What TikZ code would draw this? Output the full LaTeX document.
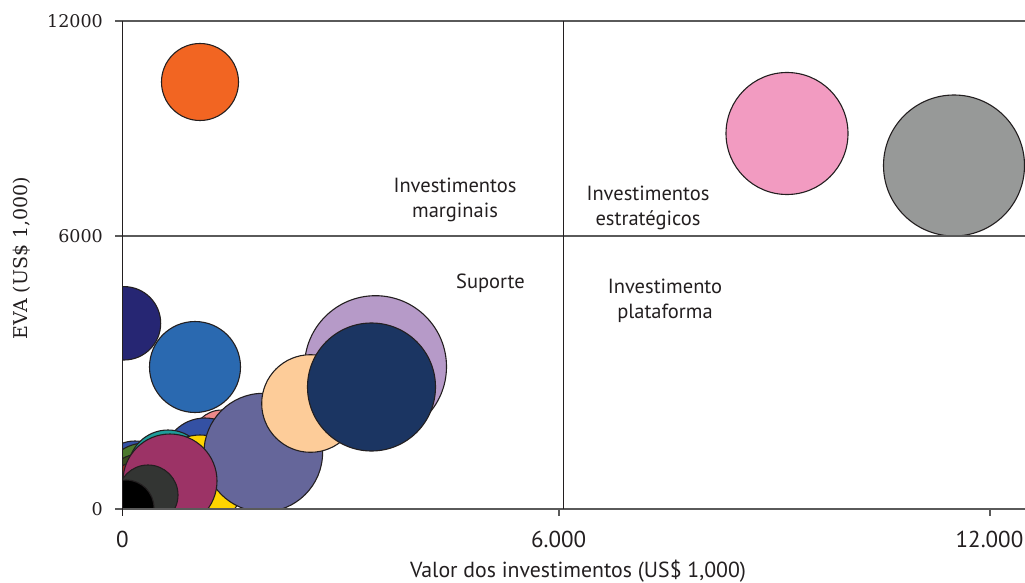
\documentclass[tikz,border=0pt]{standalone}
\usepackage{fontspec}
\setmainfont{PT Sans}
\newfontfamily\serifnum{DejaVu Serif}
\definecolor{outl}{HTML}{231F20}
\definecolor{gridgray}{HTML}{5A5A5A}
\definecolor{cOrange}{HTML}{F26522}
\definecolor{cPink}{HTML}{F29BC1}
\definecolor{cGray}{HTML}{979998}
\definecolor{cIndigo}{HTML}{262673}
\definecolor{cMedBlue}{HTML}{2A69B0}
\definecolor{cLilac}{HTML}{B69AC8}
\definecolor{cNavy}{HTML}{1B3562}
\definecolor{cPeach}{HTML}{FDCC99}
\definecolor{cSlate}{HTML}{65669A}
\definecolor{cRoyal}{HTML}{3451A4}
\definecolor{cTeal}{HTML}{1E9C9A}
\definecolor{cYellow}{HTML}{FFD400}
\definecolor{cMaroon}{HTML}{9C3366}
\definecolor{cDark}{HTML}{333533}
\definecolor{cSalmon}{HTML}{EE8A8A}
\definecolor{cGreen}{HTML}{4C7A2E}
\definecolor{cOlive}{HTML}{394A1E}
\definecolor{cRed}{HTML}{8C2A1C}
\definecolor{cBlueS}{HTML}{3451A4}
\begin{document}
\begin{tikzpicture}[x=1pt,y=-1pt,
  bubble/.style={draw=outl,line width=1.1pt},
  gridline/.style={draw=gridgray,line width=1.3pt},
  vline/.style={draw=outl,line width=1.1pt},
  quadlabel/.style={font=\fontsize{20.5}{24}\selectfont,anchor=base,inner sep=0pt,text=outl},
  xtick/.style={font=\fontsize{23}{26}\selectfont,anchor=north,inner sep=0pt,text=outl},
  ytick/.style={font=\serifnum\fontsize{17.5}{20}\selectfont,anchor=east,inner sep=0pt,text=outl}]
\useasboundingbox (0,0) rectangle (1025,583);
% bubbles
\begin{scope}
\clip (122.3,0) rectangle (1025,509);
\path[bubble,fill=cOrange] (200,82) circle (38.5pt);
\path[bubble,fill=cPink] (787,133.5) circle (61pt);
\path[bubble,fill=cGray] (954,165.5) circle (70.5pt);
\path[bubble,fill=cIndigo] (124,323.3) circle (36.7pt);
\path[bubble,fill=cMedBlue] (195,367) circle (45.5pt);
\path[bubble,fill=cSalmon] (222,440) circle (30pt);
\path[bubble,fill=cRoyal] (205,460) circle (42pt);
\path[bubble,fill=cBlueS] (135,478) circle (37pt);
\path[bubble,fill=cGreen] (145,485) circle (42pt);
\path[bubble,fill=cOlive] (140,490) circle (36pt);
\path[bubble,fill=cRed] (135,495) circle (32pt);
\path[bubble,fill=cTeal] (168,470) circle (40pt);
\path[bubble,fill=cYellow] (200,480) circle (45pt);
\path[bubble,fill=cLilac] (375.5,366.7) circle (71pt);
\path[bubble,fill=cSlate] (263.3,452.6) circle (59.3pt);
\path[bubble,fill=cPeach] (310.5,403.5) circle (48.8pt);
\path[bubble,fill=cNavy] (371.5,387) circle (64pt);
\path[bubble,fill=cMaroon] (170,481) circle (47pt);
\path[bubble,fill=cDark] (148,495) circle (30pt);
\path[bubble,fill=black] (126,508) circle (28pt);
\end{scope}
% axes and quadrant lines
\coordinate (t0) at (115,21);
\coordinate (t1) at (1025,21);
\coordinate (m0) at (115,236);
\coordinate (m1) at (1025,236);
\coordinate (b0) at (115,509);
\coordinate (b1) at (1025,509);
\coordinate (yaxTop) at (122.3,21);
\coordinate (yaxBot) at (122.3,516);
\coordinate (vTop) at (563.5,21);
\coordinate (vBot) at (563.5,509);
\draw[gridline] (t0) -- (t1);
\draw[gridline] (m0) -- (m1);
\draw[gridline] (b0) -- (b1);
\draw[vline] (yaxTop) -- (yaxBot);
\draw[vline] (vTop) -- (vBot);
\coordinate (xt1a) at (559,509);
\coordinate (xt1b) at (559,516);
\coordinate (xt2a) at (990,509);
\coordinate (xt2b) at (990,516);
\draw[gridline] (xt1a) -- (xt1b);
\draw[gridline] (xt2a) -- (xt2b);
% tick labels
\node[ytick] (y12) at (103,21) {12000};
\node[ytick] (y6) at (103,236) {6000};
\node[ytick] (y0) at (103,509) {0};
\node[xtick] (x0) at (122.4,531) {0};
\node[xtick] (x6) at (558.6,531) {6.000};
\node[xtick] (x12) at (989.5,531) {12.000};
% axis titles
\node[font=\serifnum\fontsize{19}{22}\selectfont,rotate=90,inner sep=0pt,text=outl] (ylab) at (22,258) {EVA (US\$ 1,000)};
\node[font=\fontsize{21.8}{24}\selectfont,anchor=base,inner sep=0pt,text=outl] (xlab) at (578,577.5) {Valor dos investimentos (US\$ 1,000)};
% quadrant labels
\node[quadlabel] (mA) at (455,192.7) {Investimentos};
\node[quadlabel] (mB) at (455,217.3) {marginais};
\node[quadlabel] (eA) at (648,200) {Investimentos};
\node[quadlabel] (eB) at (648,225) {estratégicos};
\node[quadlabel] (sA) at (490.5,288.3) {Suporte};
\node[quadlabel] (pA) at (665,293.3) {Investimento};
\node[quadlabel] (pB) at (665,318.3) {plataforma};
\end{tikzpicture}
\end{document}
